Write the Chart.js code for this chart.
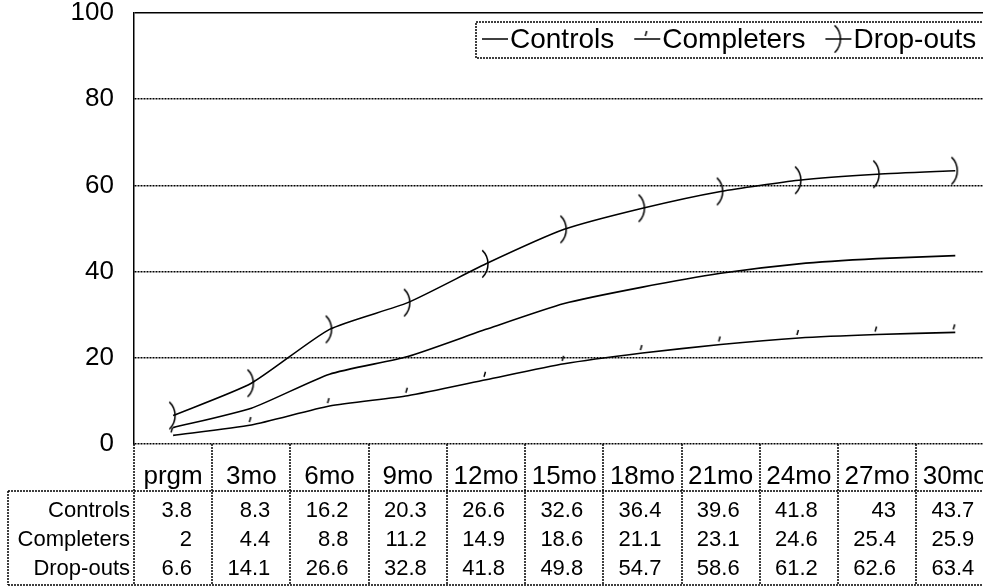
<!DOCTYPE html>
<html>
<head>
<meta charset="utf-8">
<script src="https://cdn.jsdelivr.net/npm/chart.js@4"></script>
<style>
  body { margin: 0; overflow: hidden; background: #fff; }
  #caixa { width: 1000px; height: 586px; }
</style>
</head>
<body>
<div id="caixa"><canvas id="grafico"></canvas></div>
<script>
const categorias = ["prgm", "3mo", "6mo", "9mo", "12mo", "15mo", "18mo", "21mo", "24mo", "27mo", "30mo"];
const controls = [3.8, 8.3, 16.2, 20.3, 26.6, 32.6, 36.4, 39.6, 41.8, 43, 43.7];
const completers = [2, 4.4, 8.8, 11.2, 14.9, 18.6, 21.1, 23.1, 24.6, 25.4, 25.9];
const dropouts = [6.6, 14.1, 26.6, 32.8, 41.8, 49.8, 54.7, 58.6, 61.2, 62.6, 63.4];
const ticksY = [0, 20, 40, 60, 80, 100];

const fonte = '"Liberation Sans", Arial, sans-serif';
const pontilhado = [2, 1];

// marker: small tick above the point
function marcaTraco() {
    const c = document.createElement("canvas");
    c.width = 24; c.height = 24;
    const ctx = c.getContext("2d");
    ctx.strokeStyle = "#000";
    ctx.lineWidth = 1.5;
    ctx.beginPath();
    ctx.moveTo(10, 9);
    ctx.lineTo(11.5, 4);
    ctx.stroke();
    return c;
}

// marker: ")" arc through the point
function marcaArco() {
    const c = document.createElement("canvas");
    c.width = 48; c.height = 48;
    const ctx = c.getContext("2d");
    ctx.strokeStyle = "#000";
    ctx.lineWidth = 1.5;
    ctx.beginPath();
    ctx.arc(24 - 17, 24, 19, -0.8, 0.8);
    ctx.stroke();
    return c;
}

const traco = marcaTraco();
const arco = marcaArco();

function linha(ctx, x1, y1, x2, y2) {
    ctx.beginPath();
    ctx.moveTo(x1, y1);
    ctx.lineTo(x2, y2);
    ctx.stroke();
}

const tabelaDados = {
    id: "tabelaDados",
    afterDraw(chart) {
        const ctx = chart.ctx;
        const x = chart.scales.x;
        const area = chart.chartArea;
        const larg = x.getPixelForValue(1) - x.getPixelForValue(0);
        const topo = area.bottom;
        const linhaTopo = 491;
        const fim = 585;
        const alturas = [511, 540, 569];

        ctx.save();
        ctx.strokeStyle = "#000";
        ctx.lineWidth = 1.5;
        ctx.setLineDash(pontilhado);
        for (let i = 0; i <= categorias.length; i++) {
            const px = Math.round(x.getPixelForValue(i) - larg / 2);
            linha(ctx, px, topo, px, fim);
        }
        linha(ctx, 8, linhaTopo, area.right, linhaTopo);
        linha(ctx, 8, fim, area.right, fim);
        linha(ctx, 8, linhaTopo, 8, fim);
        ctx.setLineDash([]);

        ctx.fillStyle = "#000";
        ctx.font = "26px " + fonte;
        ctx.textAlign = "center";
        ctx.textBaseline = "alphabetic";
        categorias.forEach((c, i) => {
            ctx.fillText(c, x.getPixelForValue(i), 484);
        });

        ctx.font = "22px " + fonte;
        ctx.textBaseline = "middle";
        chart.data.datasets.forEach((ds, k) => {
            ctx.textAlign = "right";
            ctx.fillText(ds.label, 130, alturas[k]);
            ds.data.forEach((v, i) => {
                ctx.fillText(String(v), x.getPixelForValue(i) + 19, alturas[k]);
            });
        });
        ctx.restore();
    }
};

const legenda = {
    id: "legenda",
    afterDraw(chart) {
        const ctx = chart.ctx;
        const esq = 476, topo = 22, baixo = 58;
        const yTexto = 39;
        ctx.save();
        ctx.fillStyle = "#fff";
        ctx.fillRect(esq, topo, 1000 - esq, baixo - topo);
        ctx.strokeStyle = "#000";
        ctx.lineWidth = 1.5;
        ctx.setLineDash(pontilhado);
        ctx.strokeRect(esq, topo, 1000 - esq - 8, baixo - topo);
        ctx.setLineDash([]);

        ctx.font = "28px " + fonte;
        ctx.textAlign = "left";
        ctx.textBaseline = "middle";
        let px = esq + 6;
        chart.data.datasets.forEach(ds => {
            ctx.strokeStyle = "#000";
            ctx.lineWidth = 1.5;
            linha(ctx, px, yTexto, px + 26, yTexto);
            const marca = ds.pointStyle;
            if (marca && typeof marca === "object") {
                ctx.drawImage(marca, px + 13 - marca.width / 2, yTexto - marca.height / 2);
            }
            px += 28;
            ctx.fillStyle = "#000";
            ctx.fillText(ds.label, px, yTexto + 1);
            px += ctx.measureText(ds.label).width + 20;
        });
        ctx.restore();
    }
};

const grafico = new Chart(document.getElementById("grafico"), {
    type: "line",
    data: {
        labels: categorias,
        datasets: [
            { label: "Controls", data: controls, pointRadius: 0, pointStyle: false,
              borderColor: "#000", backgroundColor: "#000", borderWidth: 1.6, tension: 0.2 },
            { label: "Completers", data: completers, pointRadius: 3, pointStyle: traco,
              borderColor: "#000", backgroundColor: "#000", borderWidth: 1.6, tension: 0.2 },
            { label: "Drop-outs", data: dropouts, pointRadius: 3, pointStyle: arco,
              borderColor: "#000", backgroundColor: "#000", borderWidth: 1.6, tension: 0.2 }
        ]
    },
    options: {
        responsive: true,
        maintainAspectRatio: false,
        animation: false,
        devicePixelRatio: 1,
        layout: { padding: { top: 13, right: 5, bottom: 142, left: 0 } },
        plugins: {
            legend: { display: false },
            tooltip: { enabled: false }
        },
        scales: {
            x: {
                type: "category",
                display: false,
                offset: true
            },
            y: {
                min: 0,
                max: 100,
                afterBuildTicks: scale => { scale.ticks = ticksY.map(v => ({ value: v })); },
                afterFit: scale => {
                    scale.width = 134;
                    scale.paddingTop = 0;
                    scale.paddingBottom = 0;
                },
                ticks: {
                    color: "#000",
                    font: { family: fonte, size: 26 },
                    padding: 20
                },
                grid: {
                    color: "#000",
                    lineWidth: 1.5,
                    drawTicks: false
                },
                border: {
                    color: "#000",
                    width: 1.5,
                    dash: ctx => (ctx.type === "tick" && ctx.tick.value === 100 ? [] : pontilhado)
                }
            }
        }
    },
    plugins: [tabelaDados, legenda]
});
</script>
</body>
</html>
